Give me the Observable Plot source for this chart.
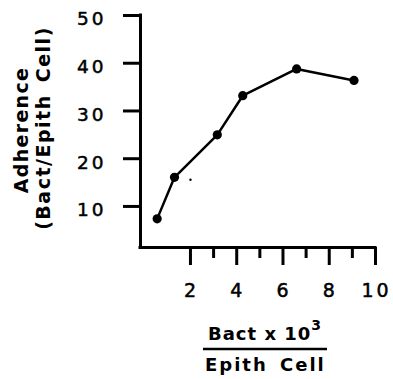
<!DOCTYPE html>
<html>
<head>
<meta charset="utf-8">
<script src="https://cdn.jsdelivr.net/npm/d3@7"></script>
<script src="https://cdn.jsdelivr.net/npm/@observablehq/plot@0.6"></script>
<style>
  html, body { margin: 0; padding: 0; background: white; }
</style>
</head>
<body>
<div id="chart"></div>
<script>
// Data
const bactPerCell = [0.56, 1.31, 3.16, 4.26, 6.59, 9.07];      // Bact x 10^3 / Epith Cell
const adherence   = [7.4, 16.1, 25.0, 33.2, 38.8, 36.4];       // Bact / Epith Cell
const yTicks = [10, 20, 30, 40, 50];
const xMajorTicks = [2, 4, 6, 8, 10];
const xMinorTicks = [3, 5, 7, 9];
const strayX = [2.0];   // small speck in the scan
const strayY = [15.6];

const points = bactPerCell.map((x, i) => ({x, y: adherence[i]}));
const stray = strayX.map((x, i) => ({x, y: strayY[i]}));

const xMin = -0.16, xMax = 10;
const yMin = 1.4, yMax = 50;

const chart = Plot.plot({
  width: 393,
  height: 379,
  marginLeft: 140,
  marginRight: 18,
  marginTop: 15,
  marginBottom: 132,
  x: {domain: [xMin, xMax], axis: null},
  y: {domain: [yMin, yMax], axis: null},
  style: {fontFamily: "DejaVu Sans", background: "white", color: "black"},
  marks: [
    Plot.axisY(yTicks, {tickSize: 17, tickFormat: () => "", strokeWidth: 3, label: null}),
    Plot.axisX(xMajorTicks, {tickSize: 18, tickFormat: () => "", strokeWidth: 3, label: null}),
    Plot.axisX(xMinorTicks, {tickSize: 11, tickFormat: () => "", strokeWidth: 3, label: null}),
    Plot.ruleX([xMin], {stroke: "black", strokeWidth: 3, strokeLinecap: "square"}),
    Plot.ruleY([yMin], {stroke: "black", strokeWidth: 3, strokeLinecap: "square"}),
    Plot.text(yTicks, {x: () => xMin, y: d => d, text: d => String(d), textAnchor: "end",
      dx: -34, dy: 4, fontSize: 18.5, fill: "black", stroke: "black", strokeWidth: 0.5}),
    Plot.text(xMajorTicks, {x: d => d, y: () => yMin, text: d => String(d), textAnchor: "middle",
      dx: 1, dy: 43, fontSize: 19, fill: "black", stroke: "black", strokeWidth: 0.5}),
    Plot.line(points, {x: "x", y: "y", stroke: "black", strokeWidth: 2.5}),
    Plot.dot(points, {x: "x", y: "y", r: 4.6, fill: "black", stroke: "none"}),
    Plot.dot(stray, {x: "x", y: "y", r: 1.2, fill: "black", stroke: "none"})
  ]
});

const svg = d3.select(chart);
svg.selectAll("g[aria-label='text'] text").style("letter-spacing", "3px");

// Y-axis title (two rotated lines)
svg.append("text")
  .attr("transform", "translate(28,130) rotate(-90)")
  .attr("text-anchor", "middle")
  .style("font-family", "DejaVu Sans").style("font-weight", "bold")
  .style("font-size", "19px").style("letter-spacing", "1.3px")
  .text("Adherence");
svg.append("text")
  .attr("transform", "translate(50,128) rotate(-90)")
  .attr("text-anchor", "middle")
  .style("font-family", "DejaVu Sans").style("font-weight", "bold")
  .style("font-size", "19px").style("letter-spacing", "1.5px").style("word-spacing", "4px")
  .text("(Bact/Epith Cell)");

// X-axis title as a fraction
const numerator = svg.append("text")
  .attr("x", 208).attr("y", 340)
  .attr("text-anchor", "start")
  .style("font-family", "DejaVu Sans").style("font-weight", "bold")
  .style("font-size", "18px").style("letter-spacing", "1px");
numerator.append("tspan").text("Bact x 10");
numerator.append("tspan").attr("dy", -10).style("font-size", "14px").text("3");
svg.append("line")
  .attr("x1", 203).attr("x2", 327).attr("y1", 349).attr("y2", 349)
  .attr("stroke", "black").attr("stroke-width", 2.5);
svg.append("text")
  .attr("x", 205).attr("y", 371)
  .attr("text-anchor", "start")
  .style("font-family", "DejaVu Sans").style("font-weight", "bold")
  .style("font-size", "18px").style("letter-spacing", "2px").style("word-spacing", "4px")
  .text("Epith Cell");

document.getElementById("chart").appendChild(chart);
</script>
</body>
</html>
